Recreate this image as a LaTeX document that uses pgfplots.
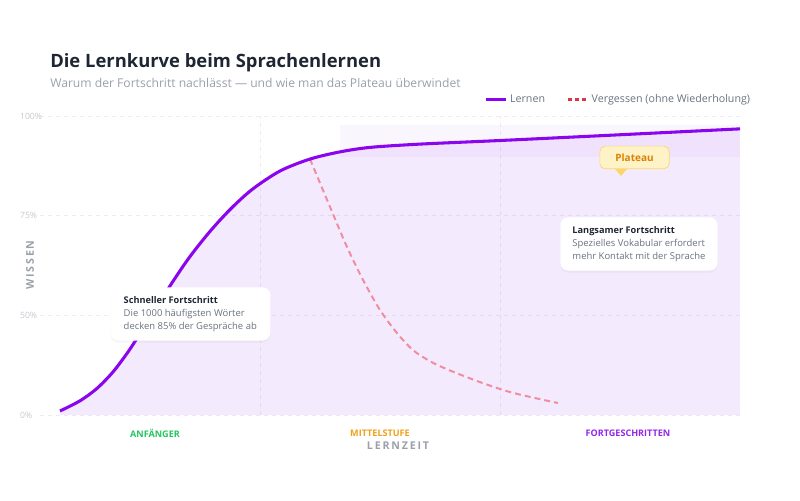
\documentclass[border=0pt]{standalone}
\usepackage{pgfplots}
\pgfplotsset{compat=1.18}
\usepackage{fontspec}
\setmainfont{Open Sans}
\setsansfont{Open Sans}
\usetikzlibrary{shadows}

\definecolor{titlec}{HTML}{1F2633}
\definecolor{subc}{HTML}{9AA0AA}
\definecolor{tickc}{HTML}{C4C8CF}
\definecolor{labc}{HTML}{9CA0AA}
\definecolor{learnc}{HTML}{8A05EE}
\definecolor{areac}{HTML}{9333EA}
\definecolor{forgetc}{HTML}{EF8E9E}
\definecolor{forgetleg}{HTML}{DC3545}
\definecolor{gridc}{HTML}{F1EAF5}
\definecolor{greenc}{HTML}{22C55E}
\definecolor{orangec}{HTML}{F0A01A}
\definecolor{purplec}{HTML}{9327E8}
\definecolor{boxtext}{HTML}{1F2633}
\definecolor{boxgrey}{HTML}{6B7280}
\definecolor{platfill}{HTML}{FEF3C7}
\definecolor{platdraw}{HTML}{FCD66D}
\definecolor{plattext}{HTML}{D98206}

\pgfplotstableread{
x y
20 1.34
40 4.74
57 8.9
73 14.4
87 20.6
95 24.6
110 32.5
132 44.2
150 53.0
170 61.4
190 68.7
212 75.4
240 81.6
270 85.6
300 88.0
330 89.5
380 90.6
460 91.8
560 93.4
700 95.7
}\learn

\pgfplotstableread{
x y
270 85.6
290 69.6
307 56.2
323 45.2
340 35.1
357 27.4
373 21.7
390 18.0
407 15.3
440 11.0
473 7.4
518 4.0
}\forget

\begin{document}
\begin{tikzpicture}[x=0.75pt,y=0.75pt]
\path[use as bounding box] (0,0) rectangle (800,500);

% titles
\node[anchor=base west, inner sep=0pt, text=titlec,
  font=\bfseries\fontsize{13.8}{16}\selectfont] at (50,432) {Die Lernkurve beim Sprachenlernen};
\node[anchor=base west, inner sep=0pt, text=subc,
  font=\fontsize{9.1}{12}\selectfont] at (50,412) {Warum der Fortschritt nachlässt — und wie man das Plateau überwindet};

\begin{axis}[
  at={(30pt,63.75pt)}, anchor=south west,
  scale only axis, width=525pt, height=224.25pt,
  xmin=0, xmax=700, ymin=0, ymax=100,
  axis line style={draw=none},
  tick style={draw=none},
  xtick={220,460}, xticklabels={},
  ytick={0,33.33,66.67,100},
  yticklabels={0\%,50\%,75\%,100\%},
  yticklabel style={anchor=west, xshift=-18.5pt, text=tickc,
    font=\fontsize{6.5}{8}\selectfont},
  grid=major,
  major grid style={draw=gridc, dash pattern=on 3pt off 3pt, line width=0.5pt},
  legend style={at={(1.0243,1.02)}, anchor=south east, draw=none, fill=none,
    legend columns=2, font=\fontsize{8}{10}\selectfont, text=boxgrey,
    /tikz/every even column/.append style={column sep=14pt}},
  legend image code/.code={\draw[#1] (0pt,0pt) -- (15pt,0pt);},
]
% plateau band
\addplot[fill=areac, fill opacity=0.045, draw=none, forget plot]
  coordinates {(300,86.3) (700,86.3) (700,97) (300,97)} -- cycle;

% area under the learning curve
\addplot[smooth, fill=areac, fill opacity=0.1, draw=none, forget plot]
  table[x=x, y=y] {\learn} \closedcycle;

% forgetting curve
\addplot[smooth, forgetc, line width=1.5pt, dash pattern=on 4.5pt off 3pt, forget plot]
  table[x=x, y=y] {\forget};

% learning curve
\addplot[smooth, learnc, line width=2.3pt, forget plot]
  table[x=x, y=y] {\learn};

\addlegendimage{learnc, line width=2.3pt}
\addlegendentry{Lernen}
\addlegendimage{forgetleg, line width=2pt, dash pattern=on 3pt off 2.5pt}
\addlegendentry{Vergessen (ohne Wiederholung)}
\end{axis}

% axis labels
\node[rotate=90, text=labc, font=\bfseries\fontsize{8}{10}\selectfont] at (30,235) {W\,I\,S\,S\,E\,N};
\node[text=labc, font=\bfseries\fontsize{8}{10}\selectfont] at (398,54) {L\,E\,R\,N\,Z\,E\,I\,T};
\node[text=greenc, font=\bfseries\fontsize{6.8}{8}\selectfont] at (155,67) {ANFÄNGER};
\node[text=orangec, font=\bfseries\fontsize{6.8}{8}\selectfont] at (380,67) {MITTELSTUFE};
\node[text=purplec, font=\bfseries\fontsize{6.8}{8}\selectfont] at (628,67) {FORTGESCHRITTEN};

% annotations
\node[anchor=north west, fill=white, rounded corners=6pt, minimum width=120pt, minimum height=40pt,
  inner xsep=9pt, inner ysep=6pt, align=left,
  drop shadow={opacity=0.08, shadow xshift=0pt, shadow yshift=-1.5pt},
  font=\fontsize{7.1}{9.6}\selectfont, text=boxgrey] at (110,213)
  {{\bfseries\fontsize{6.9}{9.6}\selectfont\color{boxtext}Schneller Fortschritt}\\Die 1000 häufigsten Wörter\\decken 85\% der Gespräche ab};

\node[anchor=north west, fill=white, rounded corners=6pt, minimum width=118pt, minimum height=40pt,
  inner xsep=9pt, inner ysep=6pt, align=left,
  drop shadow={opacity=0.08, shadow xshift=0pt, shadow yshift=-1.5pt},
  font=\fontsize{7.1}{9.6}\selectfont, text=boxgrey] at (560,283)
  {{\bfseries\fontsize{6.9}{9.6}\selectfont\color{boxtext}Langsamer Fortschritt}\\Spezielles Vokabular erfordert\\mehr Kontakt mit der Sprache};

\fill[platdraw] (615,331) -- (627,331) -- (621,324) -- cycle;
\node[fill=platfill, draw=platdraw, line width=0.5pt, rounded corners=4pt,
  minimum width=52pt, minimum height=17pt, inner sep=2pt,
  text=plattext, font=\bfseries\fontsize{7.5}{9}\selectfont] at (634.5,342.5) {Plateau};
\end{tikzpicture}
\end{document}
